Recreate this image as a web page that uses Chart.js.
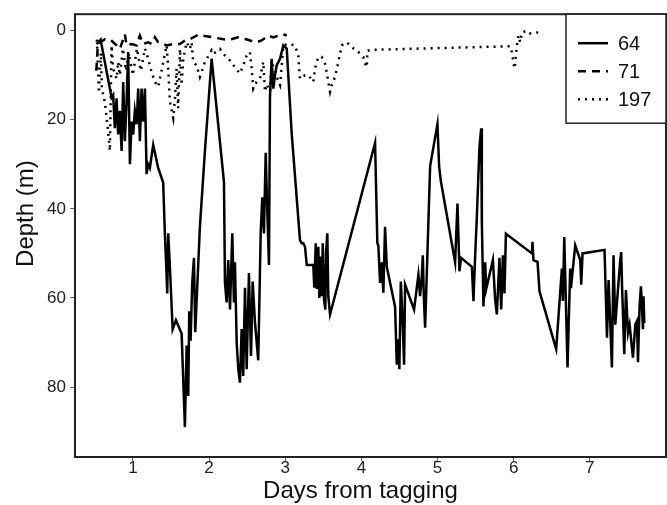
<!DOCTYPE html>
<html lang="en">
<head>
  <meta charset="UTF-8">
  <title>Depth vs days from tagging</title>
  <style>
    * { margin: 0; padding: 0; box-sizing: border-box; }
    body { background: #fff; width: 667px; height: 505px; overflow: hidden; }
    .wrap { position: relative; width: 667px; height: 505px; }
  </style>
  <script src="https://cdn.jsdelivr.net/npm/chart.js"></script>
</head>
<body>
  <div class="wrap"><canvas id="depthChart" width="667" height="505"></canvas></div>
  <script>
// Tag 64 (solid)
const days64 = [0.523,0.576,0.720,0.741,0.763,0.786,0.807,0.829,0.852,0.873,0.895,0.917,0.938,0.961,0.983,1.004,1.026,1.049,1.070,1.092,1.114,1.135,1.158,1.180,1.201,1.223,1.267,1.332,1.398,1.420,1.443,1.451,1.464,1.486,1.522,1.565,1.640,1.683,1.706,1.727,1.740,1.758,1.779,1.802,1.819,1.880,1.946,2.034,2.196,2.209,2.231,2.252,2.275,2.305,2.327,2.340,2.363,2.384,2.406,2.428,2.449,2.472,2.494,2.524,2.551,2.573,2.603,2.646,2.678,2.699,2.721,2.744,2.761,2.787,2.800,2.822,2.844,2.866,2.888,2.932,2.975,3.020,3.085,3.194,3.217,3.238,3.260,3.283,3.369,3.382,3.401,3.414,3.435,3.448,3.467,3.480,3.493,3.510,3.527,3.536,3.553,3.566,3.589,4.180,4.210,4.223,4.246,4.268,4.289,4.311,4.334,4.443,4.465,4.486,4.499,4.518,4.544,4.561,4.574,4.692,4.749,4.771,4.794,4.807,4.820,4.837,4.903,4.999,5.021,5.043,5.231,5.262,5.288,5.310,5.451,5.472,5.494,5.516,5.550,5.573,5.582,5.603,5.626,5.639,5.727,5.757,5.779,5.813,5.836,5.858,5.879,5.898,6.239,6.247,6.260,6.313,6.339,6.558,6.633,6.646,6.664,6.707,6.742,6.752,6.808,6.874,6.887,6.904,7.193,7.225,7.246,7.290,7.311,7.334,7.369,7.399,7.412,7.423,7.452,7.474,7.501,7.522,7.566,7.597,7.619,7.632,7.653,7.671,7.698,7.705,7.715];
const depth64 = [3,2,15,14.4,21.9,15.2,23.3,18,27,11.5,24.8,16,4.8,30,20.4,23.3,18,21,13,24.8,13,20.4,13,32.2,30,30.8,25.6,30.8,34.1,45.5,55,59,45.5,53,67,65,68,89,70.7,82,63,69.6,56.6,51,67.7,44,27,6.3,34,56.6,61,51.5,62.6,45.5,61,52,70,76,79,67,77.5,57.7,76,54.4,73,56.3,65.5,74,45.5,37.4,45.5,27.4,38,52.6,15,6.3,13,10,7.8,6.3,3.3,4,23,47,47.7,47.7,48.5,52.6,52.6,57.7,47.7,58,48.5,60,50.7,59.6,47.7,60.4,62.6,50,45.5,59.6,63.7,25.2,47.7,48.2,56.6,52,58.8,44,53,62,75,69.3,76,56.3,66,75,57,62.6,54.8,59.6,55,50.4,59.6,66.7,30.4,21,30.4,33.7,52,38.8,54,51,53,60.7,50.7,41.9,26.3,21.9,43,61.9,52,58,51.5,60.4,63.7,51,62.6,50.4,59,45.6,50,47.4,51.5,51.9,58.5,71.5,53.4,60.7,46.3,75.6,53.4,57.8,48.2,51.5,57,50,49.2,68.9,56,75.6,50.4,66,58.2,51.5,49.7,57.4,72.6,58.2,67.8,66,73.4,66,65.2,74.4,61.9,57.4,67,59.6,65.6];

// Tag 71 (dashed)
const days71 = [0.520,0.540,0.632,0.698,0.786,0.829,0.895,0.917,0.983,1.049,1.092,1.135,1.201,1.246,1.289,1.332,1.443,1.530,1.618,1.683,1.749,1.858,1.903,2.055,2.209,2.275,2.384,2.449,2.537,2.625,2.691,2.778,2.844,2.909,2.975,3.020];
const depth71 = [9,3,1.9,1.9,3.3,4.1,0.8,3.3,3,3.3,1.1,3,2.6,3,1.5,2.6,3.3,3,3,2.2,1.9,0.9,1.1,1.5,2,2,1.5,1.7,2.2,2.6,2.2,1.1,1.5,1.1,0.8,1.1];

// Tag 197 (dotted)
const days197 = [0.527,0.553,0.580,0.593,0.632,0.671,0.698,0.720,0.741,0.786,0.807,0.829,0.869,0.908,0.947,1.000,1.053,1.105,1.158,1.201,1.246,1.289,1.332,1.355,1.443,1.464,1.486,1.530,1.552,1.574,1.595,1.618,1.640,1.661,1.706,1.749,1.771,1.792,1.837,1.880,1.946,2.034,2.055,2.143,2.209,2.275,2.340,2.406,2.449,2.494,2.537,2.560,2.581,2.625,2.669,2.712,2.735,2.757,2.800,2.822,2.879,2.932,2.954,2.975,3.041,3.129,3.172,3.194,3.260,3.304,3.369,3.392,3.435,3.480,3.523,3.545,3.566,3.589,3.611,3.654,3.698,3.720,3.742,3.808,3.874,3.961,4.026,4.049,4.071,4.079,4.137,5.034,5.954,5.976,6.010,6.020,6.042,6.063,6.085,6.108,6.173,6.217,6.305,6.384];
const depth197 = [2,14,5,13,16,22,27,3.3,8.5,10.8,7,10,4,9,5,10,4,9,4,6.3,9.3,11.5,12.6,10.8,3.3,8.5,16,19.6,15.2,8.5,17.4,4.1,12.2,6.3,2.6,4.1,2.6,7,7.8,10.4,7,4.4,5.2,4.1,5.6,6.7,8.2,9.6,7.8,5.6,4.8,8.5,13,11.5,10.8,7,13.7,12,13.7,6.7,10,12.2,8,3.3,3,3.3,5.6,10.8,10,10,11.5,8.5,5.9,5.9,7.4,9.3,11.5,13.7,12.2,10.4,7,5.2,3.3,2.6,3.7,4.8,5.9,7.4,8.2,4.5,4.3,3.9,3.5,4.8,8.5,7.4,3.3,1.1,2.6,0.4,0,0.6,0.4,0.9];

const xTicks = [1, 2, 3, 4, 5, 6, 7];
const yTicks = [0, 20, 40, 60, 80];
const xTitle = 'Days from tagging';
const yTitle = 'Depth (m)';

const toPoints = (xs, ys) => xs.map((x, i) => ({ x: x, y: ys[i] }));
const FONT = "'Liberation Sans', Arial, sans-serif";

// box around the plot, axis titles, legend box in the top right corner
const framePlugin = {
  id: 'frame',
  afterDraw(chart) {
    const { ctx, chartArea: a } = chart;
    ctx.save();
    ctx.strokeStyle = '#222';
    ctx.lineWidth = 2;
    ctx.strokeRect(a.left, a.top, a.right - a.left, a.bottom - a.top);

    // axis titles (sit a bit left / above the plot centre, as in the source)
    ctx.fillStyle = '#111';
    ctx.font = '24px ' + FONT;
    ctx.textAlign = 'center';
    ctx.textBaseline = 'middle';
    ctx.fillText(xTitle, (a.left + a.right) / 2 - 10, 491);
    ctx.save();
    ctx.translate(26, (a.top + a.bottom) / 2 - 22);
    ctx.rotate(-Math.PI / 2);
    ctx.fillText(yTitle, 0, 0);
    ctx.restore();

    // legend
    const bx = a.right - 100, by = a.top, bw = 100, bh = 109;
    ctx.fillStyle = '#fff';
    ctx.fillRect(bx, by, bw, bh);
    ctx.lineWidth = 1.5;
    ctx.strokeRect(bx, by, bw, bh);
    ctx.font = '20px ' + FONT;
    ctx.textAlign = 'left';
    ctx.textBaseline = 'middle';
    chart.data.datasets.forEach((ds, i) => {
      const y = by + 29 + i * 28;
      ctx.beginPath();
      ctx.strokeStyle = '#000';
      ctx.lineWidth = ds.borderWidth;
      ctx.setLineDash(ds.borderDash || []);
      ctx.moveTo(bx + 12, y);
      ctx.lineTo(bx + 42, y);
      ctx.stroke();
      ctx.setLineDash([]);
      ctx.fillStyle = '#111';
      ctx.fillText(ds.label, bx + 52, y + 1);
    });
    ctx.restore();
  }
};

new Chart(document.getElementById('depthChart'), {
  type: 'line',
  data: {
    datasets: [
      { label: '64', data: toPoints(days64, depth64), borderColor: '#000', borderWidth: 2.5, pointRadius: 0, tension: 0 },
      { label: '71', data: toPoints(days71, depth71), borderColor: '#000', borderWidth: 2.5, borderDash: [8, 6], pointRadius: 0, tension: 0 },
      { label: '197', data: toPoints(days197, depth197), borderColor: '#000', borderWidth: 2.5, borderDash: [2, 5], pointRadius: 0, tension: 0 }
    ]
  },
  options: {
    responsive: false,
    animation: false,
    layout: { padding: { top: 12, right: 1, left: 0, bottom: 0 } },
    plugins: { legend: { display: false }, tooltip: { enabled: false } },
    scales: {
      x: {
        type: 'linear',
        min: 0.24,
        max: 8.0,
        afterBuildTicks: s => { s.ticks = xTicks.map(v => ({ value: v })); },
        afterFit: s => { s.height = 48; },
        grid: { drawOnChartArea: false, drawTicks: true, tickLength: 4, color: '#666' },
        border: { display: false },
        ticks: { color: '#222', font: { family: FONT, size: 17 }, padding: -3, maxRotation: 0 }
      },
      y: {
        type: 'linear',
        reverse: true,
        min: -3.7,
        max: 95.7,
        afterBuildTicks: s => { s.ticks = yTicks.map(v => ({ value: v })); },
        afterFit: s => { s.width = 75; },
        grid: { drawOnChartArea: false, drawTicks: true, tickLength: 5, color: '#666' },
        border: { display: false },
        ticks: { color: '#222', font: { family: FONT, size: 17 }, padding: 4 }
      }
    }
  },
  plugins: [framePlugin]
});
  </script>
</body>
</html>
